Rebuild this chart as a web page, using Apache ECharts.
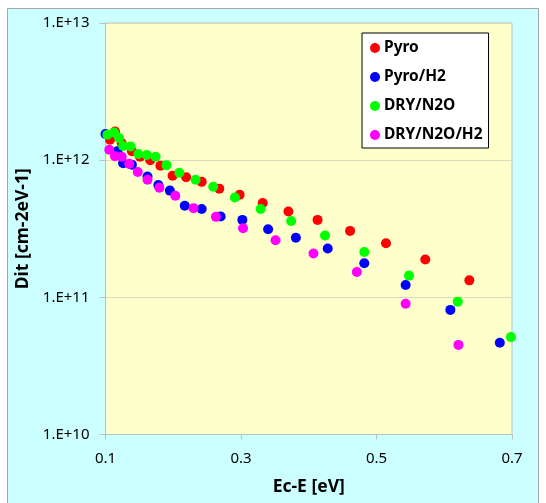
<!DOCTYPE html>
<html><head><meta charset="utf-8">
<script src="https://cdn.jsdelivr.net/npm/echarts@6/dist/echarts.min.js"></script>
<style>html,body{margin:0;padding:0;background:#fff}#c{width:546px;height:503px}</style>
</head><body><div id="c"></div>
<script>
const seriesNames = ['Pyro', 'Pyro/H2', 'DRY/N2O', 'DRY/N2O/H2'];
const seriesColors = ['#FF0000', '#0000FF', '#00FF00', '#FF00FF'];
const pyro = [[0.1066,1.41e12],[0.114,1.62e12],[0.124,1.33e12],[0.139,1.16e12],[0.151,1.06e12],[0.166,1.0e12],[0.181,9.1e11],[0.199,7.7e11],[0.219,7.5e11],[0.242,6.95e11],[0.268,6.2e11],[0.298,5.6e11],[0.332,4.87e11],[0.370,4.23e11],[0.413,3.67e11],[0.461,3.05e11],[0.514,2.48e11],[0.572,1.89e11],[0.637,1.33e11]];
const pyroH2 = [[0.1,1.55e12],[0.1175,1.16e12],[0.126,9.5e11],[0.139,9.25e11],[0.162,7.6e11],[0.178,6.6e11],[0.195,6.0e11],[0.217,4.65e11],[0.242,4.4e11],[0.270,3.88e11],[0.302,3.67e11],[0.340,3.14e11],[0.381,2.72e11],[0.428,2.27e11],[0.482,1.77e11],[0.543,1.23e11],[0.609,8.1e10],[0.682,4.66e10]];
const dryN2O = [[0.1027,1.53e12],[0.1126,1.59e12],[0.120,1.45e12],[0.126,1.27e12],[0.137,1.26e12],[0.1485,1.11e12],[0.161,1.09e12],[0.174,1.06e12],[0.190,9.2e11],[0.209,8.1e11],[0.233,7.2e11],[0.259,6.4e11],[0.291,5.35e11],[0.329,4.4e11],[0.374,3.6e11],[0.424,2.82e11],[0.482,2.14e11],[0.548,1.44e11],[0.620,9.3e10],[0.6985,5.13e10]];
const dryN2OH2 = [[0.1056,1.19e12],[0.114,1.07e12],[0.124,1.06e12],[0.135,9.4e11],[0.1476,8.2e11],[0.162,7.2e11],[0.1795,6.3e11],[0.203,5.5e11],[0.230,4.47e11],[0.263,3.86e11],[0.303,3.19e11],[0.351,2.61e11],[0.407,2.09e11],[0.471,1.53e11],[0.543,8.97e10],[0.621,4.5e10]];
const xTicks = [0.1, 0.3, 0.5, 0.7];
const yTickLabels = {10: '1.E+10', 11: '1.E+11', 12: '1.E+12', 13: '1.E+13'};

const allData = [pyro, pyroH2, dryN2O, dryN2OH2];
const font = '"Noto Sans", "Open Sans", sans-serif';
const chart = echarts.init(document.getElementById('c'), null, {renderer: 'canvas'});
chart.setOption({
  animation: false,
  backgroundColor: '#ffffff',
  graphic: [{
    type: 'rect', z: -10, silent: true,
    shape: {x: 7.5, y: 8.5, width: 531, height: 500},
    style: {fill: '#CCFFFF', stroke: '#A6A6A6', lineWidth: 1}
  }],
  grid: {left: 105.5, right: 34, top: 23, bottom: 68.5, show: true, backgroundColor: '#FFFFCC', borderColor: '#BFBFBF', borderWidth: 1, containLabel: false},
  legend: {
    orient: 'vertical', left: 362, top: 33,
    backgroundColor: '#ffffff', borderColor: '#000000', borderWidth: 1,
    padding: [5, 6, 3, 8], itemGap: 9, itemWidth: 10, itemHeight: 10,
    icon: 'circle',
    textStyle: {fontFamily: font, fontSize: 15.5, fontWeight: 'bold', color: '#000', lineHeight: 20, padding: [0,0,0,-1]},
    data: seriesNames
  },
  xAxis: {
    type: 'value', min: 0.1, max: 0.7,
    name: 'Ec-E [eV]', nameLocation: 'middle', nameGap: 44,
    nameTextStyle: {fontFamily: font, fontSize: 17.5, fontWeight: 'bold', color: '#000'},
    axisLine: {show: true, lineStyle: {color: '#BFBFBF'}},
    axisTick: {show: true, length: 5, lineStyle: {color: '#BFBFBF'}, customValues: xTicks},
    axisLabel: {customValues: xTicks, fontFamily: font, fontSize: 15, color: '#000', margin: 17, formatter: v => v.toFixed(1)},
    splitLine: {show: false}
  },
  yAxis: {
    type: 'log', logBase: 10, min: 1e10, max: 1e13,
    name: 'Dit [cm-2eV-1]', nameLocation: 'middle', nameGap: 71, nameRotate: 90,
    nameTextStyle: {fontFamily: font, fontSize: 17.5, fontWeight: 'bold', color: '#000'},
    axisLine: {show: true, lineStyle: {color: '#BFBFBF'}},
    axisTick: {show: true, length: 6, inside: false, lineStyle: {color: '#BFBFBF'}},
    axisLabel: {fontFamily: font, fontSize: 15, color: '#000', margin: 16,
      formatter: v => yTickLabels[Math.round(Math.log10(v))] || ''},
    splitLine: {show: true, lineStyle: {color: '#D9D9C0', width: 1}},
    minorTick: {show: false}
  },
  series: allData.map((d, i) => ({
    name: seriesNames[i], type: 'scatter', data: d,
    symbol: 'circle', symbolSize: 10,
    itemStyle: {color: seriesColors[i], opacity: 1}
  }))
});
</script></body></html>
